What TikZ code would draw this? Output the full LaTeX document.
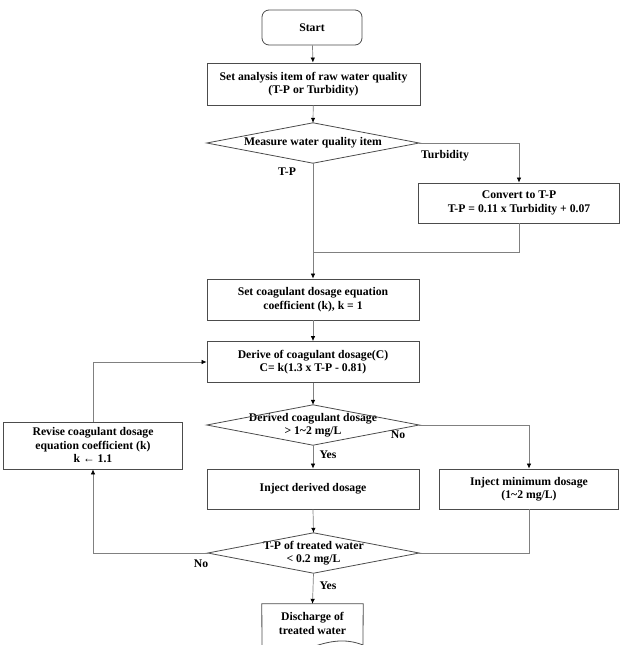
\documentclass[tikz,border=0pt]{standalone}
\usepackage{fontspec}
\setmainfont{Liberation Serif}
\usetikzlibrary{arrows.meta}

\tikzset{
  boxline/.style={draw=black!70, line width=0.8pt},
  box/.style={boxline, fill=white, align=center, inner sep=0pt,
    font=\bfseries\fontsize{11.7}{13.5}\selectfont},
  startbox/.style={box, rounded corners=7pt},
  decision/.style={align=center, inner sep=0pt, minimum width=212pt, minimum height=40pt,
    font=\bfseries\fontsize{11.7}{13.5}\selectfont},
  lbl/.style={font=\bfseries\fontsize{11.7}{13.5}\selectfont},
  line/.style={draw=black!50, line width=0.7pt},
}

\begin{document}
\begin{tikzpicture}[x=1pt,y=-1pt,>={Latex[length=5pt,width=4.5pt,color=black]}]
\path[use as bounding box, clip] (0,0) rectangle (635,645);

% boxes
\node[startbox, minimum width=100pt, minimum height=35pt] (start) at (312,27.5) {Start};
\node[box, minimum width=213pt, minimum height=42pt] (setitem) at (313.5,84) {Set analysis item of raw water quality\\(T-P or Turbidity)};
\node[decision] (measure) at (313,143) {Measure water quality item};
\draw[boxline] (measure.west) -- (measure.north) -- (measure.east) -- (measure.south) -- cycle;
\node[box, minimum width=201pt, minimum height=40pt] (convert) at (519,203) {Convert to T-P\\T-P = 0.11 x Turbidity + 0.07};
\node[box, minimum width=212pt, minimum height=41pt] (coef) at (313,299.5) {Set coagulant dosage equation\\coefficient (k), k = 1};
\node[box, minimum width=212pt, minimum height=41pt] (derive) at (313,362) {Derive of coagulant dosage(C)\\C= k(1.3 x T-P - 0.81)};
\node[decision] (dose) at (313,425) {Derived coagulant dosage\\> 1\textasciitilde 2 mg/L};
\draw[boxline] (dose.west) -- (dose.north) -- (dose.east) -- (dose.south) -- cycle;
\node[box, minimum width=212pt, minimum height=40pt] (injd) at (313,489) {Inject derived dosage};
\node[box, minimum width=179pt, minimum height=40pt] (injm) at (529,489) {Inject minimum dosage\\(1\textasciitilde 2 mg/L)};
\node[box, minimum width=179pt, minimum height=47pt] (revise) at (93,445.5) {Revise coagulant dosage\\equation coefficient (k)\\k ← 1.1};
\node[decision, minimum width=211pt] (tpw) at (313.5,553) {T-P of treated water\\< 0.2 mg/L};
\draw[boxline] (tpw.west) -- (tpw.north) -- (tpw.east) -- (tpw.south) -- cycle;
\node[align=center, inner sep=0pt, minimum width=101pt, minimum height=39pt, lbl] (dis) at (312.5,623.5) {Discharge of\\treated water};
\draw[boxline] (262,652) -- (dis.north west) -- (dis.north east) -- (363,645) .. controls (345,638) and (330,641) .. (312,647) .. controls (295,653) and (280,654) .. (262,650);

% labels
\node[lbl] (lturb) at (445,156) {Turbidity};
\node[lbl] (ltp) at (287,172) {T-P};
\node[lbl] (lno1) at (398,435) {No};
\node[lbl] (lyes1) at (328,455) {Yes};
\node[lbl] (lno2) at (201,564) {No};
\node[lbl] (lyes2) at (328,586) {Yes};

% connectors
\coordinate (merge) at (313,252);
\draw[line,->] (start) -- (setitem);
\draw[line,->] (setitem) -- (measure.north);
\draw[line,->] (measure.east) -| (convert.north);
\draw[line,->] (measure.south) -- (coef.north);
\draw[line] (convert.south) |- (merge);
\draw[line,->] (coef) -- (derive);
\draw[line,->] (derive) -- (dose.north);
\draw[line,->] (dose.south) -- (injd.north);
\draw[line,->] (dose.east) -| (injm.north);
\draw[line,->] (injd.south) -- (tpw.north);
\draw[line] (injm.south) |- (tpw.east);
\draw[line,->] (tpw.west) -| (revise.south);
\draw[line,->] (revise.north) |- (derive.west);
\draw[line,->] (tpw.south) -- (dis.north);
\end{tikzpicture}
\end{document}
